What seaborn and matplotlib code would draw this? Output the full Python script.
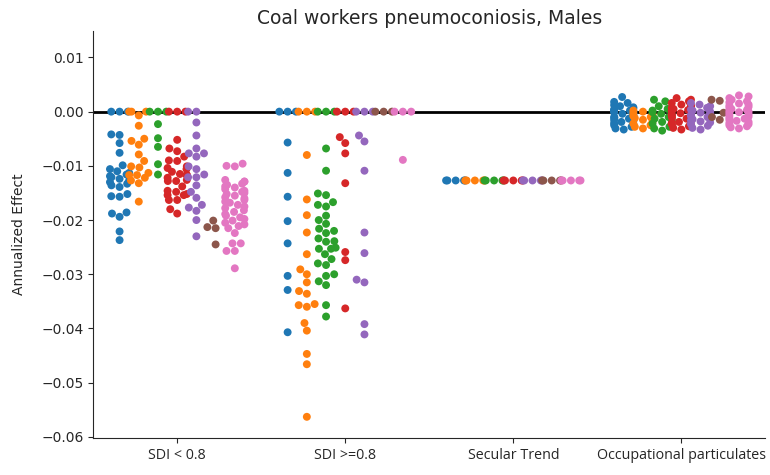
import warnings

import matplotlib
matplotlib.use("Agg")
import matplotlib.pyplot as plt
import pandas as pd
import seaborn as sns
from seaborn import categorical

warnings.filterwarnings("ignore")

# Predictor categories on the x axis and the seven draw groups (hue)
categories = ["SDI < 0.8", "SDI >=0.8", "Secular Trend", "Occupational particulates"]
groups = ["1", "2", "3", "4", "5", "6", "7"]
colors = ["#1f77b4", "#ff7f0e", "#2ca02c", "#d62728", "#9467bd", "#8c564b", "#e377c2"]

# Annualized effects, one list per group, for each category
sdi_low = [
    [0, 0, 0, -0.0042, -0.0043, -0.0058, -0.0076, -0.0099, -0.0106, -0.0110, -0.0113,
     -0.0116, -0.0119, -0.0121, -0.0124, -0.0127, -0.0130, -0.0133, -0.0136, -0.0139,
     -0.0152, -0.0156, -0.0157, -0.0186, -0.0188, -0.0194, -0.0221, -0.0237],
    [0, 0, 0, -0.0007, -0.0026, -0.0050, -0.0054, -0.0061, -0.0079, -0.0091, -0.0101,
     -0.0103, -0.0113, -0.0117, -0.0117, -0.0122, -0.0127, -0.0132, -0.0166],
    [0, 0, 0, -0.0023, -0.0049, -0.0065, -0.0097, -0.0116],
    [0, 0, 0, -0.0052, -0.0068, -0.0073, -0.0083, -0.0090, -0.0091, -0.0101, -0.0104,
     -0.0106, -0.0111, -0.0115, -0.0117, -0.0117, -0.0122, -0.0126, -0.0128, -0.0128,
     -0.0138, -0.0146, -0.0148, -0.0152, -0.0154, -0.0154, -0.0163, -0.0163, -0.0180,
     -0.0188],
    [0, 0, -0.0020, -0.0044, -0.0068, -0.0077, -0.0077, -0.0083, -0.0101, -0.0106,
     -0.0116, -0.0121, -0.0121, -0.0136, -0.0148, -0.0159, -0.0172, -0.0177, -0.0183,
     -0.0200, -0.0230],
    [-0.0201, -0.0213, -0.0215, -0.0245],
    [-0.0096, -0.0100, -0.0101, -0.0126, -0.0129, -0.0129, -0.0133, -0.0135, -0.0138,
     -0.0140, -0.0143, -0.0146, -0.0148, -0.0150, -0.0152, -0.0155, -0.0158, -0.0160,
     -0.0163, -0.0166, -0.0168, -0.0172, -0.0175, -0.0178, -0.0182, -0.0185, -0.0189,
     -0.0192, -0.0195, -0.0198, -0.0201, -0.0205, -0.0208, -0.0211, -0.0215, -0.0224,
     -0.0243, -0.0243, -0.0257, -0.0257, -0.0289],
]

sdi_high = [
    [0, 0, 0, -0.0057, -0.0113, -0.0157, -0.0202, -0.0243, -0.0303, -0.0329, -0.0407],
    [0, 0, 0, -0.0080, -0.0162, -0.0191, -0.0223, -0.0263, -0.0291, -0.0300, -0.0315,
     -0.0331, -0.0336, -0.0355, -0.0357, -0.0360, -0.0390, -0.0404, -0.0447, -0.0466,
     -0.0563],
    [0, 0, 0, -0.0068, -0.0109, -0.0151, -0.0154, -0.0167, -0.0172, -0.0175, -0.0192,
     -0.0200, -0.0207, -0.0216, -0.0220, -0.0224, -0.0234, -0.0239, -0.0240, -0.0251,
     -0.0253, -0.0253, -0.0263, -0.0272, -0.0280, -0.0283, -0.0300, -0.0303, -0.0313,
     -0.0320, -0.0357, -0.0378],
    [0, 0, 0, -0.0047, -0.0058, -0.0077, -0.0132, -0.0259, -0.0274, -0.0363],
    [0, 0, 0, -0.0044, -0.0055, -0.0109, -0.0223, -0.0261, -0.0310, -0.0315, -0.0392,
     -0.0411],
    [0, 0, 0],
    [0, 0, 0, -0.0089],
]

secular = [[-0.0127] * 5 for _ in groups]

occupational = [
    [0.0027, 0.0018, 0.0016, 0.0012, 0.0010, 0.0008, 0.0006, 0.0004, 0.0003, 0.0002,
     0.0001, 0.0, -0.0001, -0.0003, -0.0004, -0.0006, -0.0008, -0.0010, -0.0011,
     -0.0013, -0.0015, -0.0017, -0.0019, -0.0021, -0.0023, -0.0025, -0.0028, -0.0031,
     -0.0033],
    [0.0002, 0.0, -0.0003, -0.0005, -0.0008, -0.0010, -0.0012, -0.0015, -0.0018,
     -0.0022, -0.0025, -0.0028, -0.0031],
    [0.0022, 0.0019, 0.0010, 0.0005, 0.0002, -0.0001, -0.0004, -0.0007, -0.0010,
     -0.0013, -0.0016, -0.0019, -0.0022, -0.0025, -0.0028, -0.0031, -0.0035],
    [0.0025, 0.0022, 0.0019, 0.0016, 0.0013, 0.0011, 0.0009, 0.0007, 0.0005, 0.0003,
     0.0001, 0.0, -0.0001, -0.0003, -0.0005, -0.0007, -0.0009, -0.0011, -0.0013,
     -0.0015, -0.0017, -0.0019, -0.0021, -0.0023, -0.0025, -0.0027, -0.0030, -0.0033],
    [0.0016, 0.0013, 0.0010, 0.0007, 0.0004, 0.0002, 0.0, -0.0002, -0.0004, -0.0006,
     -0.0008, -0.0010, -0.0012, -0.0014, -0.0016, -0.0018, -0.0020, -0.0023, -0.0026,
     -0.0030, -0.0033],
    [0.0022, 0.0020, -0.0001, -0.0002, -0.0010, -0.0015],
    [0.0030, 0.0028, 0.0025, 0.0022, 0.0019, 0.0017, 0.0015, 0.0013, 0.0011, 0.0009,
     0.0007, 0.0005, 0.0003, 0.0001, 0.0, -0.0001, -0.0003, -0.0005, -0.0007, -0.0009,
     -0.0011, -0.0013, -0.0015, -0.0017, -0.0019, -0.0021, -0.0023, -0.0025, -0.0027,
     -0.0029, -0.0031],
]

y_ticks = [0.01, 0.0, -0.01, -0.02, -0.03, -0.04, -0.05, -0.06]

# Long-form table for seaborn
rows = []
for cat, per_group in zip(categories, [sdi_low, sdi_high, secular, occupational]):
    for grp, vals in zip(groups, per_group):
        for v in vals:
            rows.append({"covariate": cat, "draw": grp, "effect": v})
df = pd.DataFrame(rows)


# Keep each dodged swarm inside its own hue slot (classic seaborn behaviour):
# overflowing points are pushed to the edges of the slot, not the whole category.
class SlotBeeswarm(categorical.Beeswarm):
    def __init__(self, width=.8, **kws):
        super().__init__(width=width / len(groups), **kws)


categorical.Beeswarm = SlotBeeswarm

sns.set_style("ticks")
plt.rcParams["font.family"] = ["DejaVu Sans"]

fig, ax = plt.subplots(figsize=(7.7, 4.75), dpi=100)
fig.subplots_adjust(left=0.121, right=0.994, bottom=0.078, top=0.935)

ax.axhline(0, color="black", linewidth=2, zorder=0)
sns.swarmplot(data=df, x="covariate", y="effect", hue="draw", order=categories,
              hue_order=groups, palette=colors, dodge=True, size=5.7,
              legend=False, ax=ax)

ax.set_ylim(-0.0602, 0.0149)
ax.set_xlim(-0.5, 3.5)
ax.set_yticks(y_ticks)
ax.set_xlabel("")
ax.set_ylabel("Annualized Effect", fontsize=10, labelpad=11)
ax.set_title("Coal workers pneumoconiosis, Males", fontsize=13.5, pad=5)
ax.tick_params(axis="y", labelsize=10)
for lbl in ax.get_xticklabels():
    lbl.set_fontfamily(["Open Sans", "DejaVu Sans"])
    lbl.set_fontsize(10.3)
sns.despine(ax=ax)

fig.savefig("out.png", dpi=100)
